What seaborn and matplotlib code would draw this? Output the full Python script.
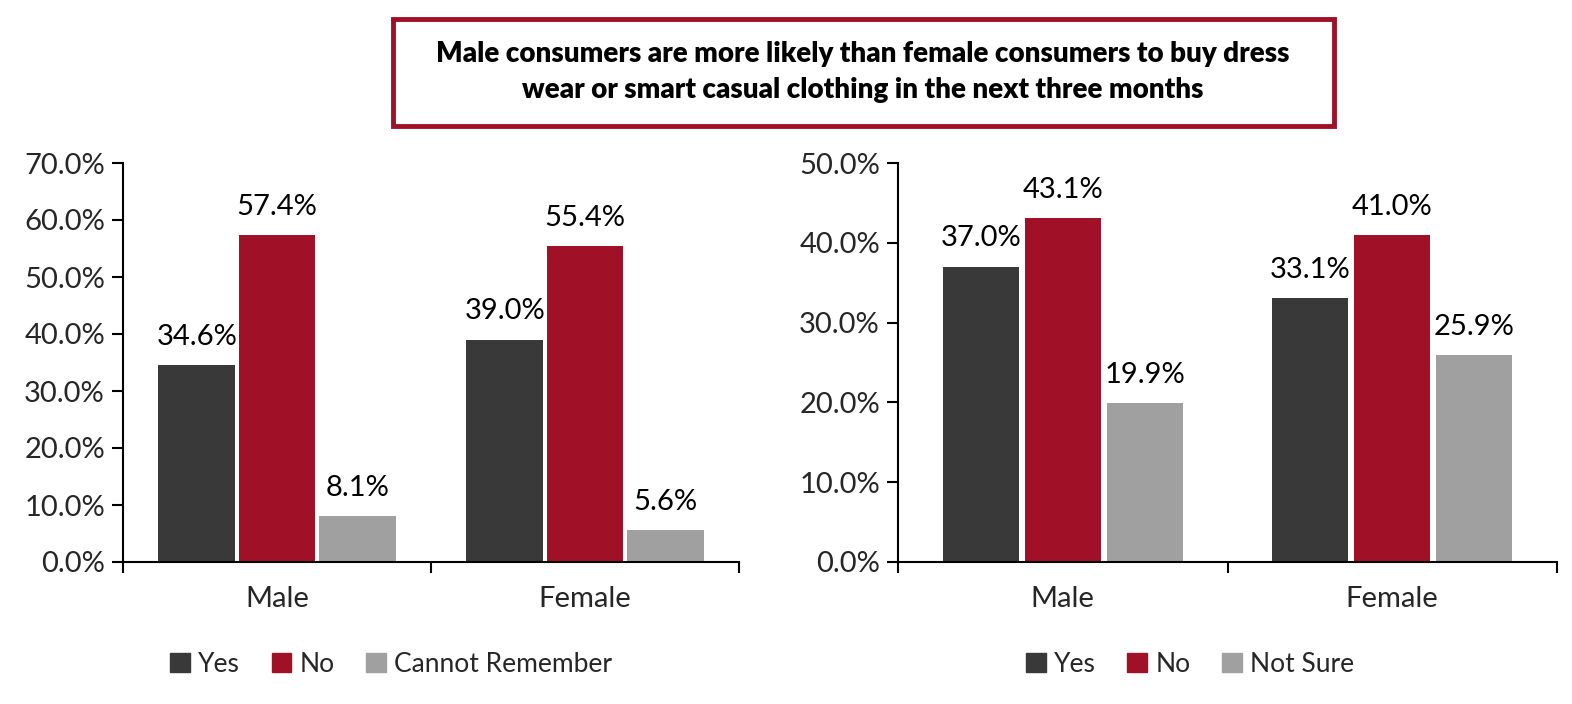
import pandas as pd
import matplotlib.pyplot as plt
import seaborn as sns
from matplotlib.patches import FancyBboxPatch, Patch

genders = ["Male", "Female"]

# Left chart: bought in the past
left_labels = ["Yes", "No", "Cannot Remember"]
left_yes = [34.6, 39.0]
left_no = [57.4, 55.4]
left_cr = [8.1, 5.6]

# Right chart: plan to buy in next three months
right_labels = ["Yes", "No", "Not Sure"]
right_yes = [37.0, 33.1]
right_no = [43.1, 41.0]
right_ns = [19.9, 25.9]

title = "Male consumers are more likely than female consumers to buy dress\nwear or smart casual clothing in the next three months"

colors = ["#393939", "#A01127", "#A0A0A0"]

sns.set_style("white")
plt.rcParams["font.family"] = ["Lato", "DejaVu Sans"]
FS = 21


def make_df(labels, series):
    rows = []
    for lab, vals in zip(labels, series):
        for g, v in zip(genders, vals):
            rows.append({"Gender": g, "Answer": lab, "Value": v})
    return pd.DataFrame(rows)


fig = plt.figure(figsize=(15.72, 7.04), dpi=100)
ax1 = fig.add_axes([123 / 1572, 142 / 704, 616 / 1572, 399 / 704])
ax2 = fig.add_axes([898 / 1572, 142 / 704, 659 / 1572, 399 / 704])

panels = [
    (ax1, make_df(left_labels, [left_yes, left_no, left_cr]), left_labels, 70, 0.78, 0.04, 391),
    (ax2, make_df(right_labels, [right_yes, right_no, right_ns]), right_labels, 50, 0.745, 0.07, 1190),
]

for ax, df, labels, ymax, w, gap, leg_x in panels:
    sns.barplot(data=df, x="Gender", y="Value", hue="Answer", hue_order=labels,
                palette=colors, width=w, gap=gap, ax=ax, legend=False,
                saturation=1, edgecolor="none")
    for cont in ax.containers:
        ax.bar_label(cont, labels=[f"{v:.1f}%" for v in cont.datavalues],
                     padding=11, fontsize=FS, color="black")
    ax.set_ylim(0, ymax)
    ax.set_yticks(range(0, ymax + 1, 10))
    ax.set_yticklabels([f"{t:.1f}%" for t in range(0, ymax + 1, 10)], fontsize=FS)
    ax.set_xlim(-0.5, 1.5)
    ax.set_xticks([-0.5, 0.5, 1.5])
    ax.set_xticklabels([])
    ax.set_xticks([0, 1], minor=True)
    ax.set_xticklabels(genders, minor=True, fontsize=FS)
    ax.tick_params(axis="x", which="minor", length=0, pad=17)
    ax.tick_params(axis="both", which="major", direction="out", length=8, width=1.5,
                   color="black", pad=5)
    ax.tick_params(axis="y", left=True)
    ax.tick_params(axis="x", which="major", bottom=True)
    ax.set_xlabel("")
    ax.set_ylabel("")
    for s in ["top", "right"]:
        ax.spines[s].set_visible(False)
    for s in ["left", "bottom"]:
        ax.spines[s].set_color("black")
        ax.spines[s].set_linewidth(1.5)
    handles = [Patch(color=c, label=l) for c, l in zip(colors, labels)]
    fig.legend(handles=handles, loc="center", bbox_to_anchor=(leg_x / 1572, 1 - 664 / 704),
               ncol=3, frameon=False, fontsize=19, handlelength=0.75, handleheight=0.75,
               handletextpad=0.3, columnspacing=1.2)

box = FancyBboxPatch((393 / 1572, 1 - 126 / 704), 941 / 1572, 107 / 704,
                     boxstyle="square,pad=0", transform=fig.transFigure,
                     facecolor="white", edgecolor="#A01127", linewidth=3.5)
fig.patches.append(box)
fig.text(863 / 1572, 1 - 72 / 704, title, ha="center", va="center", fontsize=20,
         fontweight="heavy", linespacing=1.45, color="black")

fig.savefig("out.png", dpi=100)
